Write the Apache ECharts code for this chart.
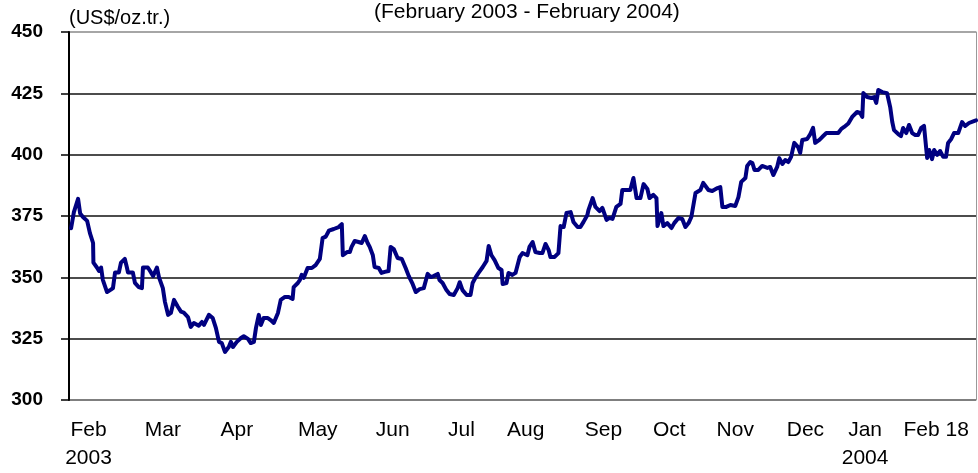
<!DOCTYPE html>
<html>
<head>
<meta charset="utf-8">
<script src="https://cdn.jsdelivr.net/npm/echarts@6/dist/echarts.min.js"></script>
<style>
html, body { margin: 0; padding: 0; background: #fff; }
#chart { width: 978px; height: 473px; }
</style>
</head>
<body>
<div id="chart"></div>
<script>
// position along the period in trading days (Feb 2003 = 0) and gold price, US$/oz.tr.
const day = [
  0.6, 1.4, 2.6, 2.9, 3.2, 4.0, 5.2, 6.0, 6.9, 7.0, 8.0, 8.6, 9.2, 9.7, 10.9, 12.0, 12.6, 13.2, 14.3, 14.9,
  16.0, 16.6, 16.9, 18.3, 18.9, 20.0, 20.9, 21.2, 22.6, 23.5, 24.1, 25.2, 25.8, 26.9, 27.5, 28.4, 29.2, 30.1, 31.2, 32.1,
  32.9, 34.1, 34.9, 35.8, 37.2, 38.1, 38.7, 40.1, 41.2, 42.1, 43.0, 43.8, 44.7, 45.8, 46.4, 47.0, 48.1, 49.3, 50.1, 51.3,
  52.1, 53.0, 53.6, 54.4, 55.0, 55.8, 57.0, 57.8, 58.7, 59.9, 60.7, 61.9, 63.0, 64.1, 64.4, 65.6, 66.2, 66.7, 67.3, 68.4,
  69.6, 70.7, 71.9, 72.7, 73.6, 74.5, 75.9, 77.3, 78.2, 78.5, 79.7, 80.5, 81.0, 81.9, 83.0, 83.9, 84.8, 85.6, 86.2, 87.1,
  87.6, 88.8, 89.6, 90.5, 91.6, 92.2, 93.1, 94.2, 95.4, 96.5, 97.4, 98.5, 99.4, 100.5, 101.7, 102.8, 103.7, 104.5, 105.7, 106.2,
  107.1, 108.2, 109.1, 110.3, 111.4, 112.0, 112.8, 114.0, 115.1, 115.7, 116.6, 117.4, 118.6, 119.7, 120.3, 121.1, 122.0, 123.1, 124.0, 124.3,
  125.4, 126.0, 127.1, 128.0, 129.2, 130.0, 131.4, 132.0, 132.9, 133.7, 134.9, 135.7, 136.6, 137.5, 138.0, 139.2, 140.3, 140.9, 141.8, 142.6,
  143.8, 144.6, 145.8, 146.6, 147.5, 148.6, 148.9, 150.1, 150.9, 152.1, 152.9, 154.1, 154.9, 155.8, 156.9, 158.1, 158.6, 159.8, 160.9, 161.8,
  162.7, 163.8, 164.7, 165.8, 166.4, 167.5, 168.4, 168.7, 169.2, 169.8, 170.4, 171.5, 172.7, 173.5, 174.7, 175.8, 176.7, 177.6, 178.4, 179.6,
  181.0, 181.8, 183.3, 184.4, 185.9, 186.7, 187.3, 188.4, 189.6, 191.0, 191.9, 192.7, 193.9, 194.4, 195.3, 195.9, 196.5, 197.6, 198.7, 200.2,
  201.0, 201.9, 203.0, 203.6, 204.5, 205.3, 206.2, 207.0, 207.9, 209.0, 209.6, 210.2, 211.6, 212.5, 213.3, 213.9, 215.1, 215.9, 217.1, 218.2,
  219.6, 220.5, 221.4, 222.2, 223.4, 224.5, 225.9, 226.8, 227.4, 227.7, 228.8, 230.0, 230.8, 231.4, 232.0, 233.1, 234.5, 235.4, 236.0, 236.5,
  237.7, 238.5, 239.1, 240.0, 240.8, 241.7, 242.6, 243.4, 244.3, 245.1, 246.0, 246.6, 247.4, 248.0, 248.9, 249.7, 250.6, 251.4, 252.0, 252.9,
  253.7, 254.9, 256.0, 256.9, 258.0, 259.4, 260.0
]
const price = [
  370, 376.6, 382, 382, 376, 374.6, 373, 368, 364, 356, 354, 352.6, 354, 349, 344, 345, 345.6, 352, 352, 356,
  357.5, 354, 352, 352, 347.7, 346, 345.6, 354, 354, 352, 350.5, 354, 350, 345.6, 340, 334.7, 335.5, 340.8, 338, 336,
  335.6, 333.8, 329.8, 331.4, 330.3, 331.8, 330.6, 334.7, 333.4, 329.4, 323.7, 323.2, 319.6, 321.6, 323.7, 321.6, 323.7, 325.3, 326, 324.9,
  323.2, 323.7, 329.4, 334.7, 330.6, 333.4, 333.4, 332.6, 331.4, 335.5, 340.8, 342, 342, 341.2, 346, 347.7, 349, 351, 349.8, 353.8,
  353.8, 355, 357.5, 366, 366.6, 369, 369.7, 370.5, 371.7, 359, 360.3, 360.3, 362.4, 364.8, 364.4, 364, 366.8, 364, 362.4, 359,
  354.2, 353.8, 351.8, 352.2, 352.6, 362.4, 361.5, 357.9, 357.5, 353.8, 350.5, 347.3, 344, 345.2, 345.6, 351.4, 350.1, 350.5, 351.4, 348.9,
  347.7, 344.8, 343.2, 342.8, 345.6, 348, 344.8, 342.8, 342.8, 347.7, 350.1, 351.8, 354.2, 356.7, 362.8, 359, 357, 353.8, 353, 347.3,
  347.7, 351.8, 351, 351.8, 358.3, 359.9, 359, 362.4, 364.4, 360.3, 359.9, 359.9, 363.6, 361.1, 358.3, 358.3, 359.9, 370.9, 370.5, 376.2,
  376.6, 372.6, 370.5, 370.5, 372.6, 375.4, 377.4, 382.3, 378.7, 377, 378.3, 373.4, 374.2, 373.8, 378.7, 379.9, 385.6, 385.6, 385.6, 390.5,
  382.3, 382.3, 388, 386, 382.3, 383.6, 382.3, 370.9, 370.5, 376.2, 370.9, 372.1, 370.1, 372.1, 374.2, 373.8, 370.5, 372.1, 374.6, 384.4,
  385.6, 388.5, 385.6, 385.2, 386.4, 386.8, 378.7, 378.7, 379.5, 379.1, 382.7, 388.9, 390.5, 395.4, 397, 396.6, 393.8, 393.8, 395.4, 394.6,
  395, 391.7, 395, 398.6, 396.2, 397.8, 397, 399.1, 404.8, 403.1, 400.7, 406, 406.4, 408.4, 410.9, 404.8, 406, 407.2, 408.8, 408.8,
  408.8, 408.8, 410.5, 411.3, 412.7, 415.4, 417.4, 417, 415.4, 425.1, 423.5, 423.1, 423.5, 421.1, 426.4, 425.5, 425.1, 419.4, 413.3, 410,
  408.4, 407.6, 410.9, 408.8, 412.1, 408.8, 408, 408, 410.9, 411.7, 398.6, 401.9, 398.2, 401.9, 399.9, 401.5, 399.1, 399.1, 404.8, 406.4,
  408.8, 408.8, 413.3, 411.7, 412.9, 413.7, 414
]

// month labels and where they sit on the day scale
const monthLabels = ['Feb\n2003', 'Mar', 'Apr', 'May', 'Jun', 'Jul', 'Aug', 'Sep', 'Oct', 'Nov', 'Dec', 'Jan\n2004', 'Feb 18']
const monthPos = [5.6, 26.9, 48.1, 71.3, 92.8, 112.5, 130.9, 153.2, 172.1, 191.0, 211.1, 228.2, 248.6]

const yTicks = [300, 325, 350, 375, 400, 425, 450]

const font = '"Liberation Sans", Arial, sans-serif'
const chart = echarts.init(document.getElementById('chart'))
chart.setOption({
  animation: false,
  title: {
    text: '(February 2003 - February 2004)',
    left: 369,
    top: -3,
    textStyle: { fontFamily: font, fontSize: 21, fontWeight: 'normal', color: '#000' }
  },
  grid: { left: 69, right: 2, top: 32, bottom: 73 },
  xAxis: {
    type: 'value',
    min: 0,
    max: 260,
    axisLine: { show: false },
    axisTick: { show: false },
    splitLine: { show: false },
    axisLabel: {
      customValues: monthPos,
      formatter: v => monthLabels[monthPos.indexOf(v)] || '',
      fontFamily: font,
      fontSize: 21,
      color: '#000',
      lineHeight: 28,
      margin: 16
    }
  },
  yAxis: [
    {
      type: 'value',
      min: yTicks[0],
      max: yTicks[yTicks.length - 1],
      interval: 25,
      name: '(US$/oz.tr.)',
      nameLocation: 'end',
      nameGap: 4,
      nameTextStyle: { fontFamily: font, fontSize: 20, color: '#000', align: 'left', verticalAlign: 'bottom' },
      axisLine: { show: true, lineStyle: { color: '#000', width: 2 } },
      axisTick: { show: true, inside: false, length: 8, lineStyle: { color: '#000', width: 1.5 } },
      axisLabel: { fontFamily: font, fontSize: 19, fontWeight: 'bold', color: '#000', margin: 26 },
      splitLine: {
        show: true,
        lineStyle: { color: ['#555', '#111', '#111', '#111', '#111', '#111', '#888'], width: 1.5 }
      }
    },
    {
      type: 'value',
      position: 'right',
      min: yTicks[0],
      max: yTicks[yTicks.length - 1],
      interval: 25,
      axisLine: { show: true, lineStyle: { color: '#999', width: 1 } },
      axisTick: { show: false },
      axisLabel: { show: false },
      splitLine: { show: false }
    }
  ],
  series: [
    {
      type: 'line',
      data: day.map((d, i) => [d, price[i]]),
      showSymbol: false,
      symbol: 'none',
      lineStyle: { color: '#000080', width: 4, cap: 'round', join: 'round' }
    }
  ]
})
</script>
</body>
</html>
